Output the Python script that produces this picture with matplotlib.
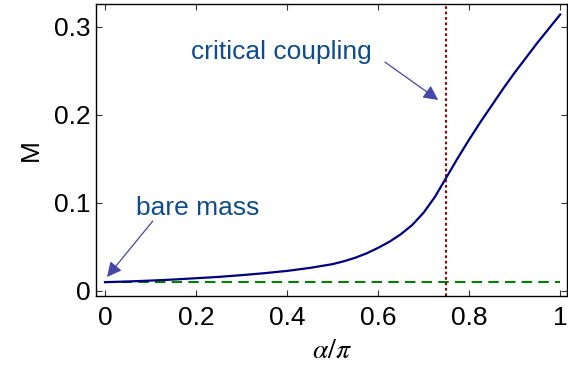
import matplotlib
matplotlib.use("Agg")
import matplotlib.pyplot as plt

# Data
alpha = [0.0, 0.05, 0.1, 0.15, 0.2, 0.25, 0.3, 0.35, 0.4, 0.45, 0.5, 0.525, 0.55,
         0.575, 0.6, 0.625, 0.65, 0.675, 0.7, 0.725, 0.75, 0.775, 0.8, 0.825,
         0.85, 0.875, 0.9, 0.925, 0.95, 0.975, 1.0]
mass = [0.0100, 0.0108, 0.0118, 0.0130, 0.0145, 0.0160, 0.0180, 0.0202, 0.0228,
        0.0262, 0.0305, 0.0338, 0.0378, 0.0428, 0.0490, 0.0560, 0.0645, 0.0750,
        0.0890, 0.1070, 0.1290, 0.1510, 0.1720, 0.1920, 0.2110, 0.2300, 0.2480,
        0.2650, 0.2820, 0.2980, 0.3140]
bare_mass = 0.01
critical_alpha = 0.75
xticks = [0, 0.2, 0.4, 0.6, 0.8, 1.0]
xticklabels = ["0", "0.2", "0.4", "0.6", "0.8", "1"]
yticks = [0, 0.1, 0.2, 0.3]
yticklabels = ["0", "0.1", "0.2", "0.3"]

plt.rcParams['font.family'] = ['Liberation Sans', 'DejaVu Sans']
plt.rcParams['mathtext.fontset'] = 'stix'

fig = plt.figure(figsize=(5.68, 3.76), dpi=100)
ax = fig.add_axes([96/568, 1 - 296/376, (567 - 96)/568, (296 - 4)/376])

ax.plot(alpha, mass, color='#000080', lw=1.6, zorder=3, solid_joinstyle='round')
ax.plot([alpha[0], alpha[-1]], [bare_mass, bare_mass], color='#008000', lw=1.5,
        dashes=(5, 3), zorder=2)
ax.axvline(critical_alpha, color='#990000', lw=1.5, dashes=(1.3, 1.3), zorder=2)

ax.set_xlim(-0.0198, 1.015)
ax.set_ylim(-0.0057, 0.326)
ax.set_xticks(xticks)
ax.set_xticklabels(xticklabels)
ax.set_yticks(yticks)
ax.set_yticklabels(yticklabels)
ax.tick_params(direction='in', length=4.5, width=0.8, labelsize=19,
               top=True, right=True, color='#333333')
ax.tick_params(axis='x', pad=7)
ax.tick_params(axis='y', pad=4)
for s in ax.spines.values():
    s.set_linewidth(1.0)

ax.set_xlabel(r'$\alpha/\pi$', fontsize=20, labelpad=6)
ax.set_ylabel('M', fontsize=19, labelpad=8)

txtc = '#0F4C8A'
arrc = '#4646A8'
ax.text(0.387, 0.2716, 'critical coupling', color=txtc, fontsize=19,
        ha='center', va='center')
ax.annotate('', xy=(0.732, 0.217), xytext=(0.615, 0.260),
            arrowprops=dict(arrowstyle='-|>', color=arrc, lw=0.9,
                            mutation_scale=22, shrinkA=0, shrinkB=0))
ax.text(0.204, 0.094, 'bare mass', color=txtc, fontsize=19,
        ha='center', va='center')
ax.annotate('', xy=(0.0044, 0.0159), xytext=(0.105, 0.0795),
            arrowprops=dict(arrowstyle='-|>', color=arrc, lw=0.9,
                            mutation_scale=22, shrinkA=0, shrinkB=0))

fig.savefig('out.png', dpi=100)
